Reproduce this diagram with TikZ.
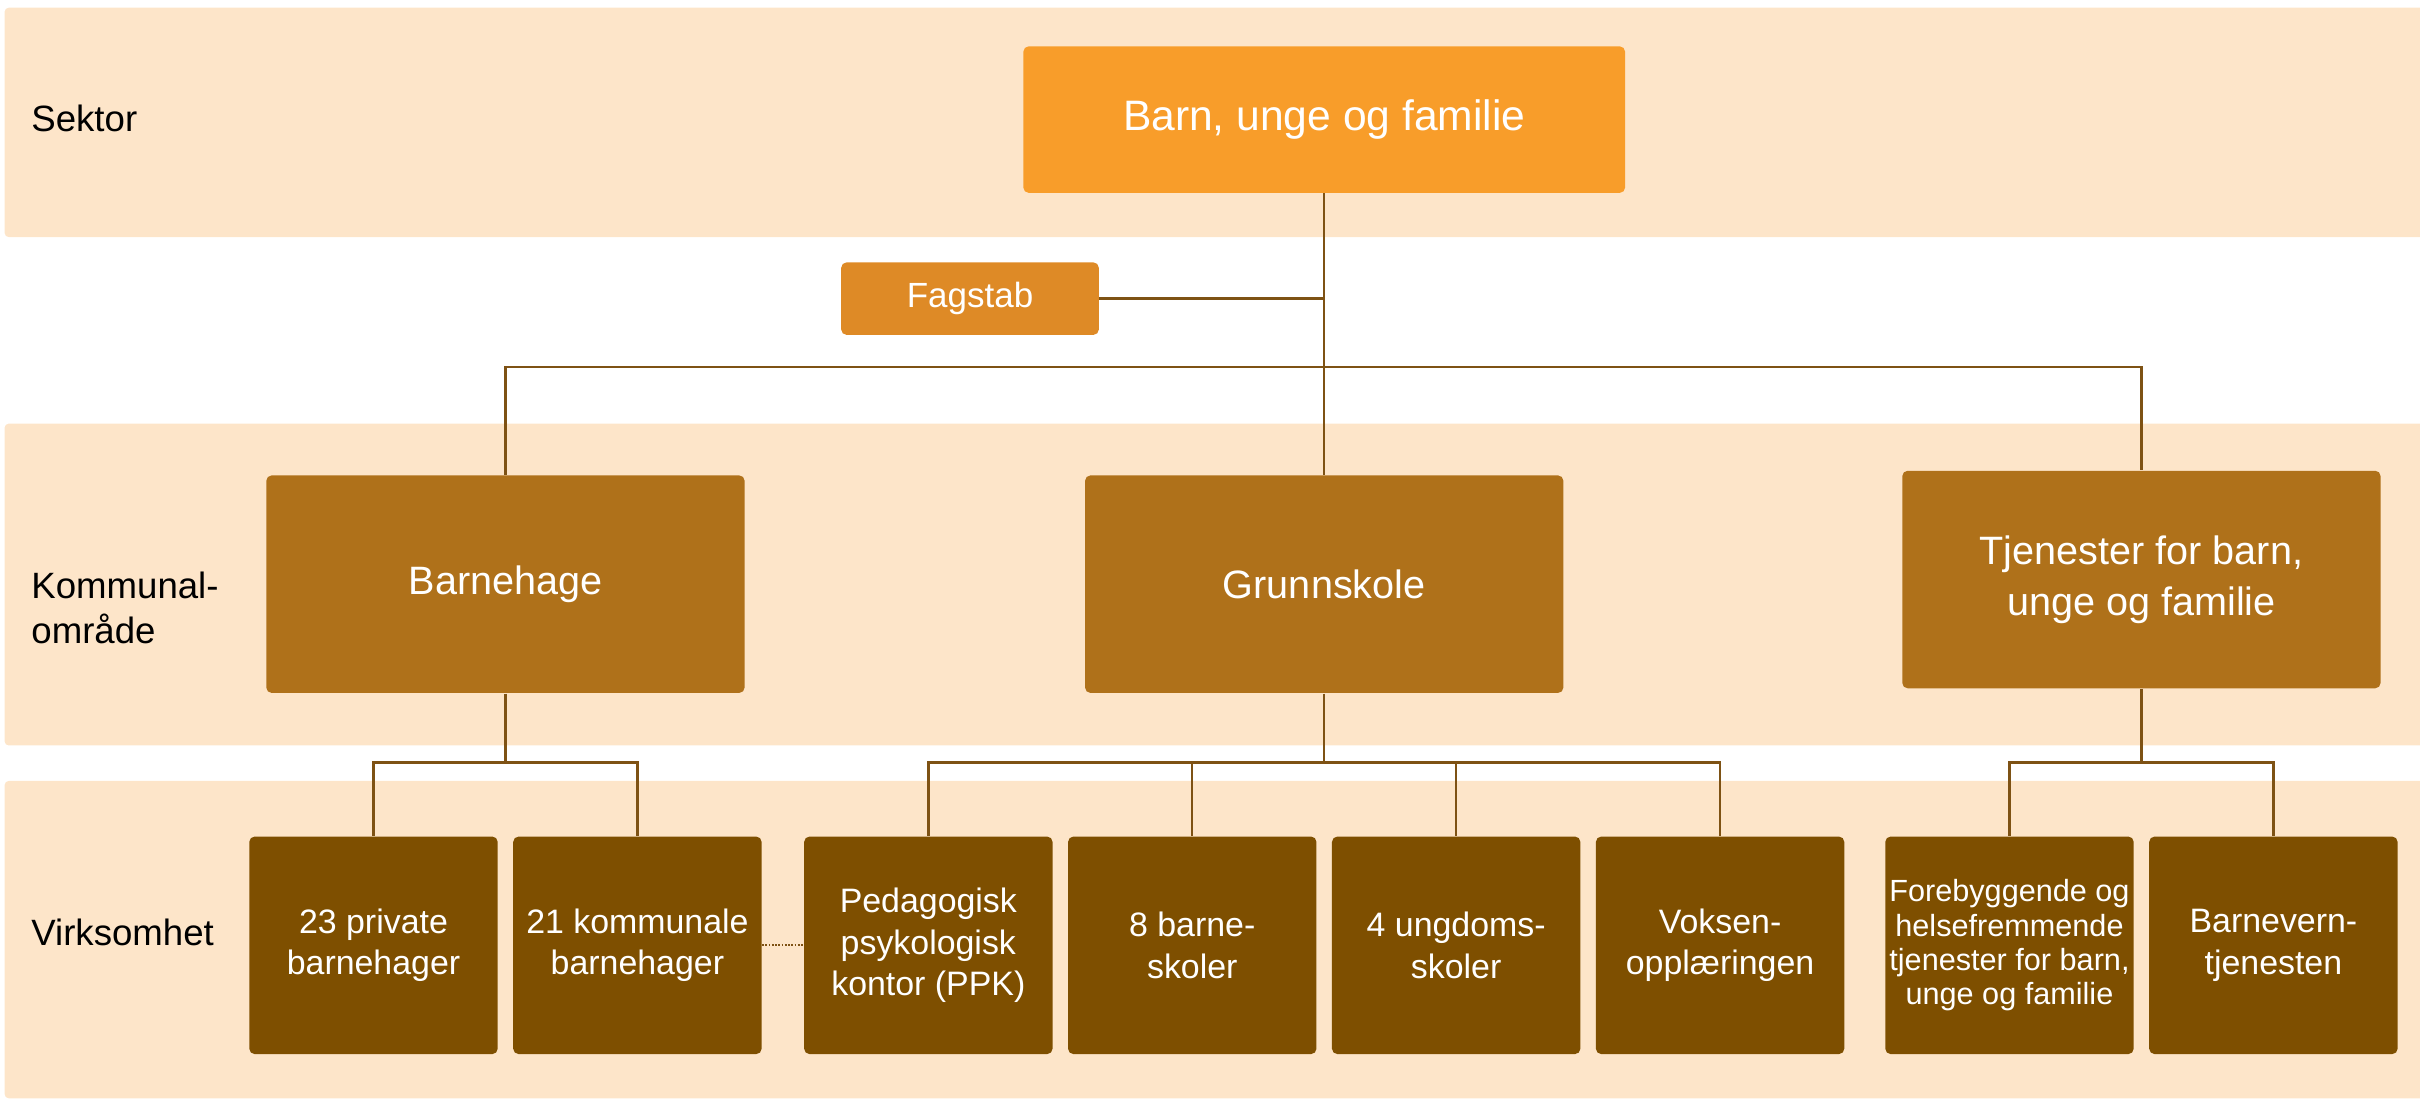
\documentclass[tikz,border=0pt]{standalone}
\usepackage{fontspec}
\setmainfont{Liberation Sans}
\definecolor{bandfill}{RGB}{253,229,201}
\definecolor{sektorcol}{RGB}{248,157,42}
\definecolor{stabcol}{RGB}{222,138,38}
\definecolor{omrcol}{RGB}{175,113,26}
\definecolor{virkcol}{RGB}{126,79,0}
\definecolor{linecol}{RGB}{126,82,20}

\begin{document}
\begin{tikzpicture}[x=0.02cm,y=-0.02cm,
	band/.style={fill=bandfill, draw=none, rounded corners=1.5pt},
	level/.style={anchor=west, align=left, inner sep=0pt, font=\fontsize{13.5}{16.5}\selectfont},
	box/.style={rectangle, rounded corners=2pt, inner sep=0pt, align=center, text=white},
	sektorbox/.style={box, fill=sektorcol, minimum width=7.8cm, minimum height=1.9cm, font=\fontsize{15.7}{19}\selectfont},
	stabbox/.style={box, fill=stabcol, minimum width=3.34cm, minimum height=0.94cm, font=\fontsize{12.9}{15}\selectfont},
	omrbox/.style={box, fill=omrcol, minimum width=6.2cm, minimum height=2.82cm, font=\fontsize{14.6}{18.8}\selectfont},
	virkbox/.style={box, fill=virkcol, minimum width=3.22cm, minimum height=2.82cm, font=\fontsize{12.5}{15.4}\selectfont},
	link/.style={draw=linecol, line width=0.85pt}]

			\useasboundingbox (0,0) rectangle (1568,712.7);

			% bands
			\fill [band] (3,5) rectangle (1580,153.6);
			\fill [band] (3,274.5) rectangle (1580,483);
			\fill [band] (3,506) rectangle (1580,711.6);

			\node [level](sektor) at (20,77) {Sektor};
			\node [level](omraade) at (20,394) {Kommunal-\\område};
			\node [level](virksomhet) at (20,604) {Virksomhet};

			% boxes
			\node [sektorbox](top) at (858,77.5) {Barn, unge og familie};
			\node [stabbox](fagstab) at (628.5,193.5) {Fagstab};

			\node [omrbox](barnehage) at (327.5,378.5) {Barnehage};
			\node [omrbox](grunnskole) at (858,378.5) {Grunnskole};
			\node [omrbox](tjenester) at (1387.5,375.5) {Tjenester for barn,\\unge og familie};

			\node [virkbox](privat) at (242,612.5) {23 private\\barnehager};
			\node [virkbox](kommunal) at (413,612.5) {21 kommunale\\barnehager};
			\node [virkbox](ppk) at (601.5,612.5) {Pedagogisk\\psykologisk\\kontor (PPK)};
			\node [virkbox](barneskole) at (772.5,612.5) {8 barne-\\skoler};
			\node [virkbox](ungdom) at (943.5,612.5) {4 ungdoms-\\skoler};
			\node [virkbox](voksen) at (1114.5,612.5) {Voksen-\\opplæringen};
			\node [virkbox, font=\fontsize{11.3}{12.6}\selectfont](forebygg) at (1302,612.5) {Forebyggende og\\helsefremmende\\tjenester for barn,\\unge og familie};
			\node [virkbox](barnevern) at (1473,612.5) {Barnevern-\\tjenesten};

			\coordinate (bar) at (858,238);
			\coordinate (bhsplit) at (327.5,494);
			\coordinate (gssplit) at (858,494);
			\coordinate (tjsplit) at (1387.5,494);

			% connectors
			\draw [link](top) -- (grunnskole);
			\draw [link](fagstab.east) -- (fagstab.east -| top.south);
			\draw [link](barnehage.north) |- (bar) -| (tjenester.north);

			\draw [link](barnehage.south) -- (bhsplit);
			\draw [link](privat.north) |- (bhsplit) -| (kommunal.north);

			\draw [link](grunnskole.south) -- (gssplit);
			\draw [link](ppk.north) |- (gssplit) -| (voksen.north);
			\foreach \n in {barneskole, ungdom}
				\draw [link](\n.north) -- (\n.north |- gssplit);

			\draw [link](tjenester.south) -- (tjsplit);
			\draw [link](forebygg.north) |- (tjsplit) -| (barnevern.north);

			\draw [draw=linecol, line width=0.8pt, dash pattern=on 0.6pt off 0.6pt](kommunal.east) -- (ppk.west);

		\end{tikzpicture}
\end{document}
